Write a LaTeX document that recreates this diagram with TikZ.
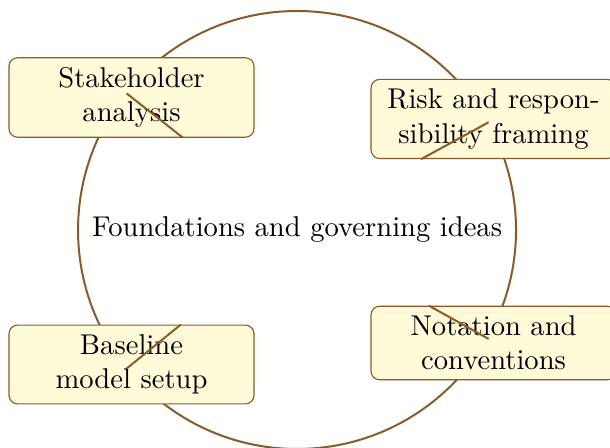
\documentclass[tikz,border=0pt]{standalone}
\usepackage{xcolor}
\definecolor{ringbrown}{HTML}{8B5A2B}
\definecolor{boxfill}{HTML}{FFFBD9}
\tikzset{
  topic/.style={draw=ringbrown,line width=0.4pt,fill=boxfill,rounded corners=3pt,
    text width=79pt,align=center},
  spoke/.style={draw=ringbrown,line width=0.7pt}
}
\begin{document}
\begin{tikzpicture}
\useasboundingbox (-3.650,-2.679) rectangle (3.846,2.826);
\node (hub) at (0,0) {Foundations and governing ideas};
\draw[ringbrown,line width=0.7pt] (hub.center) circle (2.691);
\node[topic] (stake) at (-2.034,1.628) {Stakeholder analysis};
\node[topic] (risk) at (2.415,1.364) {Risk and responsibility framing};
\node[topic] (base) at (-2.034,-1.653) {Baseline model setup};
\node[topic] (nota) at (2.415,-1.389) {Notation and conventions};
%\draw (hub) -- (stake);
\draw[spoke] ([shift={(-0.06,0.05)}]stake.center)--(stake.-38.7);
\draw[spoke] ([shift={(-0.06,-0.04)}]risk.center)--(risk.209.5);
\draw[spoke] ([shift={(-0.06,-0.05)}]base.center)--(base.39.1);
\draw[spoke] ([shift={(-0.06,0.05)}]nota.center)--(nota.150.1);
\end{tikzpicture}
\end{document}
